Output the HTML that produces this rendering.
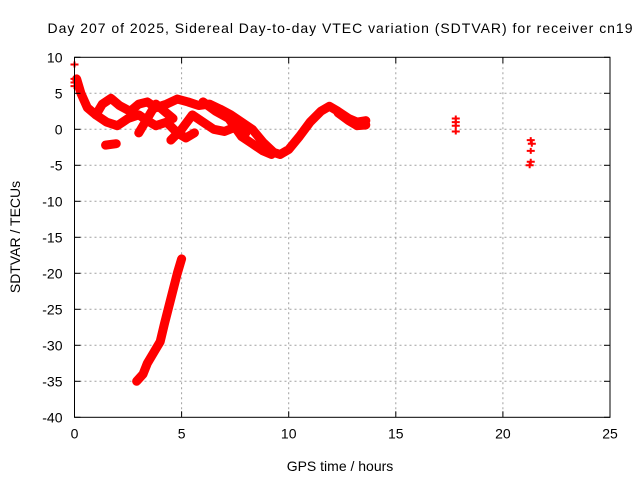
<!DOCTYPE html>
<html><head><meta charset="utf-8"><style>
html,body{margin:0;padding:0;background:#fff}
svg{display:block;font-family:"Liberation Sans",Arial,sans-serif}
</style></head><body>
<svg id="c" width="640" height="480" viewBox="0 0 640 480">
<text x="340" y="33" font-size="14" text-anchor="middle" textLength="585">Day 207 of 2025, Sidereal Day-to-day VTEC variation (SDTVAR) for receiver cn19</text>
<text x="340" y="471" font-size="14" text-anchor="middle">GPS time / hours</text>
<text x="20" y="237" font-size="14" text-anchor="middle" transform="rotate(-90 20 237)">SDTVAR / TECUs</text>
<g id="grid"></g><g id="data"></g><g id="axes"></g>
</svg>
<script>
const xTicks=[0,5,10,15,20,25];
const yTicks=[10,5,0,-5,-10,-15,-20,-25,-30,-35,-40];
const track1=[[0.1,7],[0.3,5],[0.6,3],[1.0,2],[1.3,3.5],[1.7,4.3],[2.1,3.3],[2.6,2.5],[3.0,3.5],[3.4,3.8],[3.8,3],[4.3,3.5],[4.8,4.2],[5.3,3.8],[5.8,3.3],[6.3,3.5],[6.8,2.8],[7.3,2],[7.8,1],[8.3,0],[8.8,-1.8],[9.3,-3.2],[9.6,-3.5],[10.0,-2.8],[10.5,-1],[11.0,1],[11.5,2.5],[11.9,3.2],[12.3,2.5],[12.8,1.5],[13.2,1],[13.6,1.2]];
const track2=[[1.0,2],[1.5,1],[2.0,0.5],[2.5,1.5],[3.0,2],[3.4,1.2],[3.8,0.5],[4.3,1],[4.8,-0.5],[5.2,-1.2],[5.6,-0.5]];
const track3=[[3.0,-0.5],[3.4,1.5],[3.8,3.5],[4.2,2.5],[4.6,1.5]];
const track4=[[4.5,-1.5],[5.0,0],[5.5,2],[6.0,1],[6.5,0],[7.0,-0.3],[7.5,0.3],[8.0,-0.5]];
const track5=[[6.0,3.8],[6.6,2.5],[7.2,1.5],[7.8,-1],[8.3,-2],[8.8,-3],[9.2,-3.5]];
const track6=[[1.45,-2.2],[1.95,-2.0]];
const track7=[[12.3,2.3],[12.8,1.2],[13.2,0.5],[13.6,0.6]];
const steep=[[2.9,-35],[3.2,-34],[3.4,-32.5],[3.7,-31],[4.0,-29.5],[4.2,-27],[4.5,-23.5],[4.8,-20],[5.0,-18]];
const isolated=[[0,9],[0,7],[0,6.5],[0,6],[17.8,1.5],[17.8,1],[17.8,0.5],[17.8,-0.3],[21.3,-1.5],[21.35,-2],[21.3,-3],[21.3,-4.5],[21.25,-5]];
const L=74.5,R=610,T=57.3,B=417.3;
const X=v=>L+(v-0)/(25-0)*(R-L);
const Y=v=>T+(10-v)/(10-(-40))*(B-T);
const NS='http://www.w3.org/2000/svg';
function mk(t,a,p){const e=document.createElementNS(NS,t);for(const k in a)e.setAttribute(k,a[k]);p.appendChild(e);return e;}
const grid=document.getElementById('grid'),data=document.getElementById('data'),axes=document.getElementById('axes');
xTicks.forEach(t=>{const x=X(t);
 if(t>0&&t<25){const g=mk('line',{x1:x,y1:T,x2:x,y2:B,stroke:'#a0a0a0','stroke-dasharray':'2,3'},grid);
 
 }
 mk('line',{x1:x,y1:B,x2:x,y2:B-6,stroke:'#000'},axes);
 mk('line',{x1:x,y1:T,x2:x,y2:T+6,stroke:'#000'},axes);
 const tx=mk('text',{x:x,y:B+21,'font-size':14,'text-anchor':'middle'},axes);tx.textContent=t;
 
 });
yTicks.forEach(t=>{const y=Y(t);
 if(t<10&&t>-40){const g=mk('line',{x1:L,y1:y,x2:R,y2:y,stroke:'#a0a0a0','stroke-dasharray':'2,3'},grid);
 
 }
 mk('line',{x1:L,y1:y,x2:L+6,y2:y,stroke:'#000'},axes);
 mk('line',{x1:R,y1:y,x2:R-6,y2:y,stroke:'#000'},axes);
 const tx=mk('text',{x:L-12,y:y+5,'font-size':14,'text-anchor':'end'},axes);tx.textContent=t;
 
 });
const fr=mk('rect',{x:L,y:T,width:R-L,height:B-T,fill:'none',stroke:'#000'},axes);


[track1,track2,track3,track4,track5,track6,track7,steep].forEach(tr=>{
 const p=mk('polyline',{points:tr.map(d=>X(d[0])+','+Y(d[1])).join(' '),fill:'none',stroke:'#ff0000','stroke-width':9,'stroke-linejoin':'round','stroke-linecap':'round'},data);
 
 });
isolated.forEach(d=>{const x=X(d[0]),y=Y(d[1]);
 const p=mk('path',{d:`M${x-4},${y}H${x+4}M${x},${y-3}V${y+3}`,stroke:'#ff0000','stroke-width':2},data);
 
 });
</script>
</body></html>
